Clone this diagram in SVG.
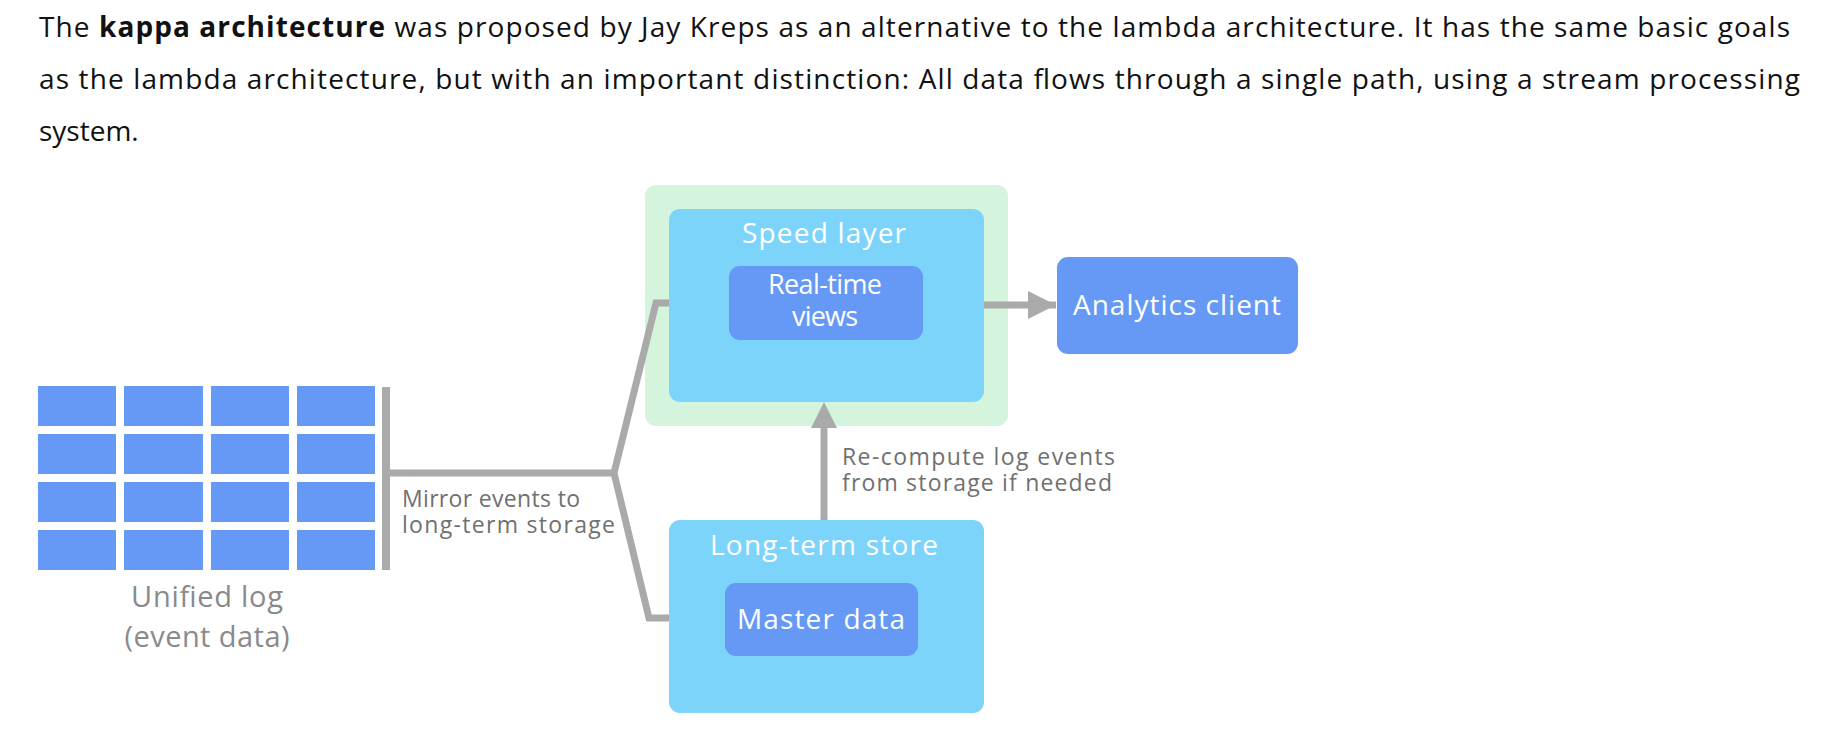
<svg xmlns="http://www.w3.org/2000/svg" width="1838" height="742" viewBox="0 0 1838 742">
<defs>
<style>
.para{font-family:"Open Sans","Noto Sans","Liberation Sans",sans-serif;font-size:28px;fill:#111111}
.b{font-weight:bold}
.lbl{font-family:"Open Sans","Noto Sans","Liberation Sans",sans-serif;font-size:28px;fill:#ffffff;text-anchor:middle}
.sm{font-size:27px}
.note{font-family:"Open Sans","Noto Sans","Liberation Sans",sans-serif;font-size:23px;fill:#707070}
.cap{font-family:"Open Sans","Noto Sans","Liberation Sans",sans-serif;font-size:29px;fill:#8a8a8a;text-anchor:middle}
.outer{fill:#d4f4de}
.box{fill:#7dd4fb}
.inner{fill:#6699f5}
.cell{fill:#6699f5}
.line{fill:none;stroke:#aaaaaa;stroke-width:7;stroke-linejoin:miter}
</style>
<marker id="ah" markerUnits="userSpaceOnUse" markerWidth="30" markerHeight="30" refX="28" refY="14" orient="auto">
<path d="M0,0 L28,14 L0,28 Z" fill="#aaaaaa"/>
</marker>
</defs>
<rect width="1838" height="742" fill="#ffffff"/>
<g id="paragraph">
<text class="para" x="39" y="37" textLength="1751">The <tspan class="b">kappa architecture</tspan> was proposed by Jay Kreps as an alternative to the lambda architecture. It has the same basic goals</text>
<text class="para" x="39" y="89" textLength="1761">as the lambda architecture, but with an important distinction: All data flows through a single path, using a stream processing</text>
<text class="para" x="39" y="141">system.</text>
</g>
<g id="unified-log">
<rect class="cell" x="38" y="386" width="78" height="40"/>
<rect class="cell" x="124" y="386" width="79" height="40"/>
<rect class="cell" x="211" y="386" width="78" height="40"/>
<rect class="cell" x="297" y="386" width="78" height="40"/>
<rect class="cell" x="38" y="434" width="78" height="40"/>
<rect class="cell" x="124" y="434" width="79" height="40"/>
<rect class="cell" x="211" y="434" width="78" height="40"/>
<rect class="cell" x="297" y="434" width="78" height="40"/>
<rect class="cell" x="38" y="482" width="78" height="40"/>
<rect class="cell" x="124" y="482" width="79" height="40"/>
<rect class="cell" x="211" y="482" width="78" height="40"/>
<rect class="cell" x="297" y="482" width="78" height="40"/>
<rect class="cell" x="38" y="530" width="78" height="40"/>
<rect class="cell" x="124" y="530" width="79" height="40"/>
<rect class="cell" x="211" y="530" width="78" height="40"/>
<rect class="cell" x="297" y="530" width="78" height="40"/>
<text class="cap" x="207" y="607" textLength="152">Unified log</text>
<text class="cap" x="207" y="647" textLength="165">(event data)</text>
</g>
<g id="speed-layer">
<rect class="outer" x="645" y="185" width="363" height="241" rx="11"/>
<rect class="box" x="669" y="209" width="315" height="193" rx="11"/>
<text class="lbl" x="824" y="243" textLength="164">Speed layer</text>
<g id="real-time-views">
<rect class="inner" x="729" y="266" width="194" height="74" rx="11"/>
<text class="lbl sm" x="825" y="294" textLength="114">Real-time</text>
<text class="lbl sm" x="825" y="326" textLength="66">views</text>
</g>
</g>
<g id="analytics-client">
<rect class="inner" x="1057" y="257" width="241" height="97" rx="11"/>
<text class="lbl" x="1177" y="315" textLength="208">Analytics client</text>
</g>
<g id="long-term-store">
<rect class="box" x="669" y="520" width="315" height="193" rx="11"/>
<text class="lbl" x="824" y="555" textLength="228">Long-term store</text>
<g id="master-data">
<rect class="inner" x="725" y="583" width="193" height="73" rx="11"/>
<text class="lbl" x="821" y="629" textLength="168">Master data</text>
</g>
</g>
<g id="connectors">
<rect x="382" y="387" width="8" height="183" fill="#aaaaaa"/>
<path class="line" d="M390,473 L614,473 L656,303 L669,303"/>
<path class="line" d="M614,473 L649,618 L669,618"/>
<path class="line" d="M984,305 L1056,305" marker-end="url(#ah)"/>
<path d="M824,520 L824,425" class="line"/>
<path d="M811,428 L824,402 L837,428 Z" fill="#aaaaaa"/>
<text class="note" x="402" y="507" textLength="178">Mirror events to</text>
<text class="note" x="402" y="533" textLength="213">long-term storage</text>
<text class="note" x="842" y="465" textLength="273">Re-compute log events</text>
<text class="note" x="842" y="491" textLength="270">from storage if needed</text>
</g>
</svg>
